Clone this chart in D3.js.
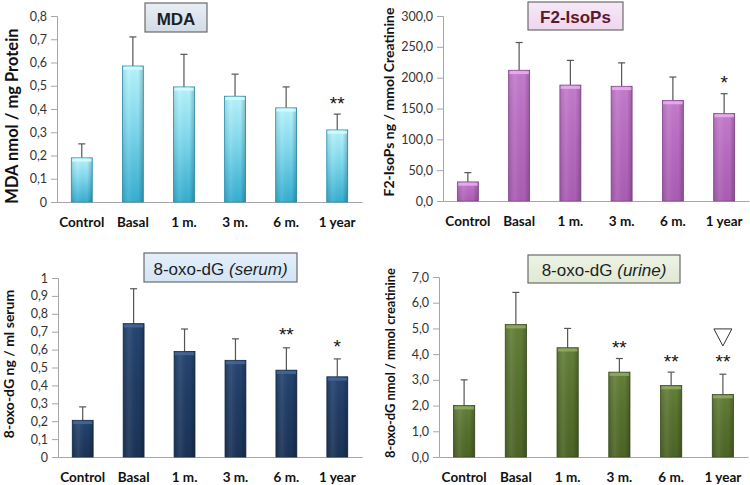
<!DOCTYPE html>
<html>
<head>
<meta charset="utf-8">
<script src="https://cdn.jsdelivr.net/npm/d3@7"></script>
<style>
  body { margin: 0; background: #fff; }
  svg { display: block; }
</style>
</head>
<body>
<svg id="chart" width="750" height="485"></svg>
<script>
// categories shared by all four panels
const categories = ['Control', 'Basal', '1 m.', '3 m.', '6 m.', '1 year'];

// MDA
const mdaMean = [0.19, 0.585, 0.495, 0.455, 0.405, 0.31];
const mdaUpper = [0.25, 0.71, 0.635, 0.55, 0.495, 0.378];
const mdaTicks = [0, 0.1, 0.2, 0.3, 0.4, 0.5, 0.6, 0.7, 0.8];
const mdaTickLabels = ['0', '0,1', '0,2', '0,3', '0,4', '0,5', '0,6', '0,7', '0,8'];
const mdaMarks = [{cat: '1 year', v: 0.443, t: '**'}];

// F2-IsoPs
const f2Mean = [31, 212, 188, 186, 163, 142];
const f2Upper = [46, 257, 228, 224, 201, 174];
const f2Ticks = [0, 50, 100, 150, 200, 250, 300];
const f2TickLabels = ['0,0', '50,0', '100,0', '150,0', '200,0', '250,0', '300,0'];
const f2Marks = [{cat: '1 year', v: 199, t: '*'}];

// 8-oxo-dG serum
const serumMean = [0.205, 0.745, 0.59, 0.54, 0.485, 0.448];
const serumUpper = [0.28, 0.94, 0.715, 0.66, 0.61, 0.548];
const serumTicks = [0, 0.1, 0.2, 0.3, 0.4, 0.5, 0.6, 0.7, 0.8, 0.9, 1];
const serumTickLabels = ['0', '0,1', '0,2', '0,3', '0,4', '0,5', '0,6', '0,7', '0,8', '0,9', '1'];
const serumMarks = [{cat: '6 m.', v: 0.71, t: '**'}, {cat: '1 year', v: 0.64, t: '*'}];

// 8-oxo-dG urine
const urineMean = [2.0, 5.15, 4.25, 3.3, 2.78, 2.43];
const urineUpper = [3.0, 6.4, 5.0, 3.83, 3.3, 3.22];
const urineTicks = [0, 1, 2, 3, 4, 5, 6, 7];
const urineTickLabels = ['0,0', '1,0', '2,0', '3,0', '4,0', '5,0', '6,0', '7,0'];
const urineMarks = [{cat: '3 m.', v: 4.43, t: '**'}, {cat: '6 m.', v: 3.89, t: '**'}, {cat: '1 year', v: 3.89, t: '**'}];
const urineTriangle = [{cat: '1 year', v: 4.67}];

const svg = d3.select('#chart');
const defs = svg.append('defs');

// panel layout
const panels = [
  {id: 'mda', mean: mdaMean, upper: mdaUpper, ticks: mdaTicks, tickLabels: mdaTickLabels, marks: mdaMarks, tri: [],
   x0: 57, x1: 362, yTop: 16, yBot: 202,
   ylabel: 'MDA nmol /  mg Protein', ylx: 12, yly: 116, ylSize: 16.5,
   colors: ['#b8f4fc', '#80d9ee', '#35aed0'], stroke: '#2a96b6', cap: '#d5fbff',
   title: [{t: 'MDA'}], titleWeight: 'bold', titleColor: '#1c1f26', box: [145, 3, 62, 29], boxFill: ['#e9eef4', '#d2dbe6']},
  {id: 'f2', mean: f2Mean, upper: f2Upper, ticks: f2Ticks, tickLabels: f2TickLabels, marks: f2Marks, tri: [],
   x0: 443, x1: 749, yTop: 16, yBot: 201,
   ylabel: 'F2-IsoPs ng / mmol Creatinine', ylx: 388, yly: 102, ylSize: 14,
   colors: ['#c47ccc', '#b86bc1', '#a95db2'], stroke: '#8c4a94', cap: '#eab2f0',
   title: [{t: 'F2-IsoPs'}], titleWeight: 'bold', titleColor: '#5a1a2a', box: [528, 2, 95, 28], boxFill: ['#f7e8f7', '#eed6ef']},
  {id: 'serum', mean: serumMean, upper: serumUpper, ticks: serumTicks, tickLabels: serumTickLabels, marks: serumMarks, tri: [],
   x0: 58, x1: 362, yTop: 278, yBot: 457,
   ylabel: '8-oxo-dG ng / ml serum', ylx: 8, yly: 364, ylSize: 14,
   colors: ['#254572', '#1f3b63', '#1a3256'], stroke: '#142a48', cap: '#46699a',
   title: [{t: '8-oxo-dG '}, {t: '(serum)', i: true}], titleWeight: 'normal', titleColor: '#1c1f26', box: [144, 253, 153, 29], boxFill: ['#e4effa', '#d3e4f5']},
  {id: 'urine', mean: urineMean, upper: urineUpper, ticks: urineTicks, tickLabels: urineTickLabels, marks: urineMarks, tri: urineTriangle,
   x0: 439, x1: 748, yTop: 277, yBot: 457,
   ylabel: '8-oxo-dG nmol / mmol creatinine', ylx: 390, yly: 363, ylSize: 12.8,
   colors: ['#64803a', '#57712e', '#4c6426'], stroke: '#3c4f1e', cap: '#93ad62',
   title: [{t: '8-oxo-dG '}, {t: '(urine)', i: true}], titleWeight: 'normal', titleColor: '#1c1f26', box: [528, 255, 152, 28], boxFill: ['#edf3e4', '#e0e9d3']}
];

panels.forEach(p => {
  const g = svg.append('g').attr('class', 'panel-' + p.id);

  const x = d3.scaleBand()
    .domain(categories)
    .range([p.x0, p.x1])
    .paddingInner(0.59)
    .paddingOuter(0.28);
  const y = d3.scaleLinear()
    .domain([0, d3.max(p.ticks)])
    .range([p.yBot, p.yTop]);

  // vertical gradient for bar body
  const grad = defs.append('linearGradient')
    .attr('id', 'grad-' + p.id)
    .attr('x1', 0).attr('y1', 0).attr('x2', 0).attr('y2', 1);
  grad.append('stop').attr('offset', '0%').attr('stop-color', p.colors[0]);
  grad.append('stop').attr('offset', '45%').attr('stop-color', p.colors[1]);
  grad.append('stop').attr('offset', '100%').attr('stop-color', p.colors[2]);

  // side shading
  const side = defs.append('linearGradient')
    .attr('id', 'side-' + p.id)
    .attr('x1', 0).attr('y1', 0).attr('x2', 1).attr('y2', 0);
  side.append('stop').attr('offset', '0%').attr('stop-color', '#000').attr('stop-opacity', 0.12);
  side.append('stop').attr('offset', '30%').attr('stop-color', '#fff').attr('stop-opacity', 0.08);
  side.append('stop').attr('offset', '75%').attr('stop-color', '#000').attr('stop-opacity', 0);
  side.append('stop').attr('offset', '100%').attr('stop-color', '#000').attr('stop-opacity', 0.22);

  // y axis
  const yAxis = d3.axisLeft(y)
    .tickValues(p.ticks)
    .tickFormat((d, i) => p.tickLabels[i])
    .tickSizeOuter(0)
    .tickSize(6)
    .tickPadding(4);
  const ya = g.append('g')
    .attr('transform', 'translate(' + p.x0 + ',0)')
    .call(yAxis);
  ya.select('.domain').attr('stroke', '#a6a6a6');
  ya.selectAll('.tick line').attr('stroke', '#a6a6a6');
  ya.selectAll('.tick text')
    .attr('fill', '#333')
    .attr('font-family', 'Lato, "Open Sans", sans-serif')
    .attr('font-size', '12.5px');

  // x axis
  const xAxis = d3.axisBottom(x).tickSize(0).tickSizeOuter(0).tickPadding(15);
  const xa = g.append('g')
    .attr('transform', 'translate(0,' + p.yBot + ')')
    .call(xAxis);
  xa.select('.domain').attr('stroke', '#a6a6a6');
  xa.selectAll('.tick text')
    .attr('fill', '#111')
    .attr('font-weight', 'bold')
    .attr('font-family', 'Lato, "Open Sans", sans-serif')
    .attr('font-size', '13.5px');

  const rows = categories.map((c, i) => ({cat: c, mean: p.mean[i], upper: p.upper[i]}));

  // error bars (upper only)
  const eb = g.selectAll('.err').data(rows).enter().append('g').attr('class', 'err');
  eb.append('line')
    .attr('x1', d => x(d.cat) + x.bandwidth() / 2)
    .attr('x2', d => x(d.cat) + x.bandwidth() / 2)
    .attr('y1', d => y(d.mean))
    .attr('y2', d => y(d.upper))
    .attr('stroke', '#555').attr('stroke-width', 1.2);
  eb.append('line')
    .attr('x1', d => x(d.cat) + x.bandwidth() / 2 - 3.5)
    .attr('x2', d => x(d.cat) + x.bandwidth() / 2 + 3.5)
    .attr('y1', d => y(d.upper))
    .attr('y2', d => y(d.upper))
    .attr('stroke', '#555').attr('stroke-width', 1.2);

  // bars
  g.selectAll('.bar').data(rows).enter().append('rect')
    .attr('class', 'bar')
    .attr('x', d => x(d.cat))
    .attr('y', d => y(d.mean))
    .attr('width', x.bandwidth())
    .attr('height', d => p.yBot - y(d.mean))
    .attr('fill', 'url(#grad-' + p.id + ')')
    .attr('stroke', p.stroke)
    .attr('stroke-width', 0.8);
  g.selectAll('.bar-side').data(rows).enter().append('rect')
    .attr('class', 'bar-side')
    .attr('x', d => x(d.cat))
    .attr('y', d => y(d.mean))
    .attr('width', x.bandwidth())
    .attr('height', d => p.yBot - y(d.mean))
    .attr('fill', 'url(#side-' + p.id + ')');
  // light bevel at the top of each bar
  g.selectAll('.bar-cap').data(rows).enter().append('rect')
    .attr('class', 'bar-cap')
    .attr('x', d => x(d.cat) + 0.8)
    .attr('y', d => y(d.mean) + 0.8)
    .attr('width', x.bandwidth() - 1.6)
    .attr('height', 3)
    .attr('fill', p.cap)
    .attr('opacity', 0.85);

  // significance marks
  g.selectAll('.mark').data(p.marks).enter().append('text')
    .attr('class', 'mark')
    .attr('x', d => x(d.cat) + x.bandwidth() / 2)
    .attr('y', d => y(d.v) + 11)
    .attr('text-anchor', 'middle')
    .attr('font-family', '"Liberation Sans", Arial, sans-serif')
    .attr('font-size', '19px')
    .attr('fill', '#111')
    .text(d => d.t);

  g.selectAll('.tri').data(p.tri).enter().append('path')
    .attr('class', 'tri')
    .attr('d', d => {
      const cx = x(d.cat) + x.bandwidth() / 2, cy = y(d.v);
      return 'M' + (cx - 9) + ',' + (cy - 8) + 'L' + (cx + 9) + ',' + (cy - 8) + 'L' + cx + ',' + (cy + 9) + 'Z';
    })
    .attr('fill', '#fff')
    .attr('stroke', '#333')
    .attr('stroke-width', 1);

  // y axis title
  g.append('text')
    .attr('transform', 'translate(' + p.ylx + ',' + p.yly + ') rotate(-90)')
    .attr('text-anchor', 'middle')
    .attr('dominant-baseline', 'central')
    .attr('font-family', 'Lato, "Open Sans", sans-serif')
    .attr('font-weight', 'bold')
    .attr('font-size', p.ylSize + 'px')
    .attr('fill', '#111')
    .text(p.ylabel);

  // title box
  const bg = defs.append('linearGradient')
    .attr('id', 'box-' + p.id)
    .attr('x1', 0).attr('y1', 0).attr('x2', 0).attr('y2', 1);
  bg.append('stop').attr('offset', '0%').attr('stop-color', p.boxFill[0]);
  bg.append('stop').attr('offset', '100%').attr('stop-color', p.boxFill[1]);
  g.append('rect')
    .attr('x', p.box[0]).attr('y', p.box[1])
    .attr('width', p.box[2]).attr('height', p.box[3])
    .attr('fill', 'url(#box-' + p.id + ')')
    .attr('stroke', '#6b6b6b')
    .attr('stroke-width', 1.2);
  const tt = g.append('text')
    .attr('x', p.box[0] + p.box[2] / 2)
    .attr('y', p.box[1] + p.box[3] / 2 + 1)
    .attr('text-anchor', 'middle')
    .attr('dominant-baseline', 'central')
    .attr('font-family', '"Liberation Sans", Arial, sans-serif')
    .attr('font-size', '17px')
    .attr('font-weight', p.titleWeight)
    .attr('fill', p.titleColor);
  p.title.forEach(s => {
    tt.append('tspan').attr('font-style', s.i ? 'italic' : 'normal').text(s.t);
  });
});
</script>
</body>
</html>
